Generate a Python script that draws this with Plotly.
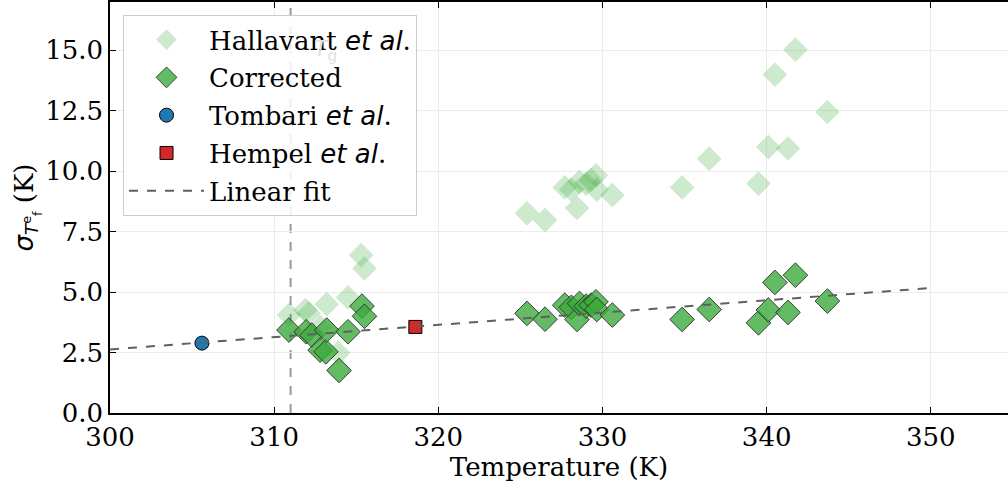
import plotly.graph_objects as go

# Hallavant et al. (raw)
hal_T = [310.9, 311.9, 312.1, 312.8, 313.2, 313.9, 314.5, 315.3, 315.5,
         325.4, 326.5, 327.7, 328.1, 328.45, 328.6, 329.0, 329.3, 329.6, 329.65, 330.6,
         334.85, 336.5, 339.5, 340.1, 340.5, 341.3, 341.75, 343.7]
hal_S = [4.05, 4.26, 4.12, 3.55, 4.50, 2.49, 4.78, 6.53, 5.98,
         8.26, 7.98, 9.33, 9.24, 8.48, 9.56, 9.49, 9.63, 9.83, 9.24, 9.01,
         9.33, 10.52, 9.49, 11.0, 14.0, 10.94, 15.03, 12.45]

# Corrected
cor_T = [310.9, 311.95, 312.3, 312.8, 313.15, 313.2, 313.95, 314.5, 315.35, 315.5,
         325.4, 326.5, 327.7, 328.1, 328.45, 328.6, 329.0, 329.3, 329.6, 329.65, 330.6,
         334.85, 336.5, 339.5, 340.1, 340.5, 341.3, 341.75, 343.7]
cor_S = [3.43, 3.36, 3.22, 2.60, 2.53, 3.43, 1.76, 3.36, 4.42, 4.00,
         4.12, 3.88, 4.46, 4.37, 3.87, 4.53, 4.42, 4.46, 4.60, 4.28, 4.05,
         3.87, 4.28, 3.73, 4.26, 5.40, 4.16, 5.70, 4.63]

tom_T = [305.6]
tom_S = [2.89]
hem_T = [318.6]
hem_S = [3.56]

fit_T = [300.0, 350.0]
fit_S = [2.63, 5.17]

Tg = 311.0

SERIF = "DejaVu Serif"
FS = 26
ETAL = "<span style='font-family:DejaVu Sans'><i>et al</i></span>."

fig = go.Figure()
fig.add_trace(go.Scatter(
    x=hal_T, y=hal_S, mode="markers", name="Hallavant " + ETAL, legendgroup="a",
    marker=dict(symbol="diamond", size=19, color="rgba(60,170,60,0.25)",
                line=dict(width=0))))
fig.add_trace(go.Scatter(
    x=cor_T, y=cor_S, mode="markers", name="Corrected", legendgroup="b",
    marker=dict(symbol="diamond", size=19, color="rgba(60,170,60,0.8)",
                line=dict(width=1, color="rgba(40,40,40,0.85)"))))
fig.add_trace(go.Scatter(
    x=tom_T, y=tom_S, mode="markers", name="Tombari " + ETAL, legendgroup="c",
    marker=dict(symbol="circle", size=14, color="#1f77b4",
                line=dict(width=1, color="black"))))
fig.add_trace(go.Scatter(
    x=hem_T, y=hem_S, mode="markers", name="Hempel " + ETAL, legendgroup="d",
    marker=dict(symbol="square", size=13, color="#d62728",
                line=dict(width=1, color="black"))))
fig.add_trace(go.Scatter(
    x=fit_T, y=fit_S, mode="lines", name="Linear fit", legendgroup="e",
    line=dict(color="#606060", width=2, dash="dash")))

fig.add_shape(type="line", x0=Tg, x1=Tg, y0=0, y1=1, xref="x", yref="paper",
              line=dict(color="rgba(128,128,128,0.8)", width=2, dash="dash"), layer="below")
fig.add_annotation(x=312.3, y=15.0, xref="x", yref="y", xanchor="left",
                   text="<i>T</i><sub>g</sub>", showarrow=False,
                   font=dict(family="DejaVu Sans", size=22, color="#e2e2e2"))

fig.update_layout(
    width=1008, height=484,
    margin=dict(l=110, r=0, t=2, b=71, autoexpand=False),
    plot_bgcolor="white", paper_bgcolor="white",
    font=dict(family=SERIF, size=FS, color="black"),
    showlegend=True,
    legend=dict(x=0.0145, y=0.968, xanchor="left", yanchor="top",
                bgcolor="rgba(255,255,255,0.85)", bordercolor="#cccccc", borderwidth=1,
                font=dict(family=SERIF, size=FS), itemwidth=75, tracegroupgap=1),
    xaxis=dict(range=[300, 354.7], tickvals=[300, 310, 320, 330, 340, 350],
               ticks="inside", ticklen=6, tickcolor="black", showline=True,
               linecolor="black", linewidth=1.5, mirror="allticks", automargin=False,
               showgrid=True, gridcolor="#ececec", gridwidth=1, zeroline=False,
               tickfont=dict(size=FS),
               title=dict(text="Temperature (K)", font=dict(size=FS), standoff=0)),
    yaxis=dict(range=[0, 17], tickvals=[0, 2.5, 5, 7.5, 10, 12.5, 15],
               ticktext=["0.0", "2.5", "5.0", "7.5", "10.0", "12.5", "15.0"],
               ticks="inside", ticklen=6, tickcolor="black", showline=True,
               linecolor="black", linewidth=1.5, automargin=False,
               showgrid=True, gridcolor="#ececec", gridwidth=1, zeroline=False,
               tickfont=dict(size=FS),
               title=dict(text="<span style='font-family:DejaVu Sans'><i>σ</i><sub><i>T</i><sup>e</sup><sub>f</sub></sub></span> (K)",
                          font=dict(size=FS), standoff=4)),
)

fig.write_html("out.html", config={"displayModeBar": False},
               post_script="document.body.style.margin='0';")
